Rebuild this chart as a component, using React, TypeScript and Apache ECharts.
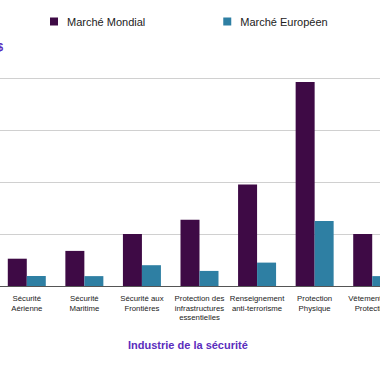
import React, { useEffect, useRef } from "react";
import * as echarts from "echarts";

const categories = [
  "Sécurité\nAérienne",
  "Sécurité\nMaritime",
  "Sécurité aux\nFrontières",
  "Protection des\ninfrastructures\nessentielles",
  "Renseignement\nanti-terrorisme",
  "Protection\nPhysique",
  "Vêtements de\nProtection",
];
const mondial = [10.5, 13.5, 20, 25.5, 39, 78.5, 20];
const europeen = [3.8, 3.8, 8, 5.8, 9, 25, 3.8];
const seriesNames = ["Marché Mondial", "Marché Européen"];

export default function App() {
  const ref = useRef<HTMLDivElement>(null);
  useEffect(() => {
    if (!ref.current) return;
    const chart = echarts.init(ref.current, undefined, { renderer: "svg" });
    chart.setOption({
      animation: false,
      backgroundColor: "#ffffff",
      title: {
        text: "Industrie de la sécurité",
        left: 123,
        top: 334,
        textStyle: { color: "#5a2dbd", fontSize: 11, fontWeight: "bold", fontFamily: "Liberation Sans, Arial, sans-serif" },
      },
      legend: {
        left: 45,
        top: 11,
        icon: "rect",
        itemWidth: 8,
        itemHeight: 8,
        itemGap: 78,
        textStyle: { fontSize: 11, color: "#222", padding: [0, 0, 0, 4], fontFamily: "Liberation Sans, Arial, sans-serif" },
        data: seriesNames,
      },
      graphic: [
        {
          type: "text",
          x: 3,
          y: 47,
          style: {
            text: "Milliards $",
            align: "right",
            verticalAlign: "middle",
            fill: "#5a2dbd",
            fontSize: 11,
            fontWeight: "bold",
            fontFamily: "Liberation Sans, Arial, sans-serif",
          },
        },
      ],
      grid: { left: -2, width: 403, top: 78, bottom: 94, outerBoundsMode: "none", containLabel: false },
      xAxis: {
        type: "category",
        data: categories,
        axisLine: { lineStyle: { color: "#555", width: 1 } },
        axisTick: { show: false },
        axisLabel: {
          interval: 0,
          fontSize: 7.8,
          lineHeight: 9.5,
          color: "#222",
          margin: 8,
          fontFamily: "Liberation Sans, Arial, sans-serif",
        },
      },
      yAxis: {
        type: "value",
        min: 0,
        max: 80,
        interval: 20,
        axisLabel: { show: false },
        axisLine: { show: false },
        axisTick: { show: false },
        splitLine: { lineStyle: { color: "#d0d0d0", width: 1 } },
      },
      series: [
        {
          name: seriesNames[0],
          type: "bar",
          data: mondial,
          barWidth: 19,
          barGap: "0%",
          itemStyle: { color: "#3e0a45" },
        },
        {
          name: seriesNames[1],
          type: "bar",
          data: europeen,
          barWidth: 19,
          itemStyle: { color: "#2e7fa3" },
        },
      ],
    });
    return () => chart.dispose();
  }, []);
  return <div ref={ref} style={{ width: 380, height: 380, position: "absolute", left: 0, top: 0 }} />;
}
